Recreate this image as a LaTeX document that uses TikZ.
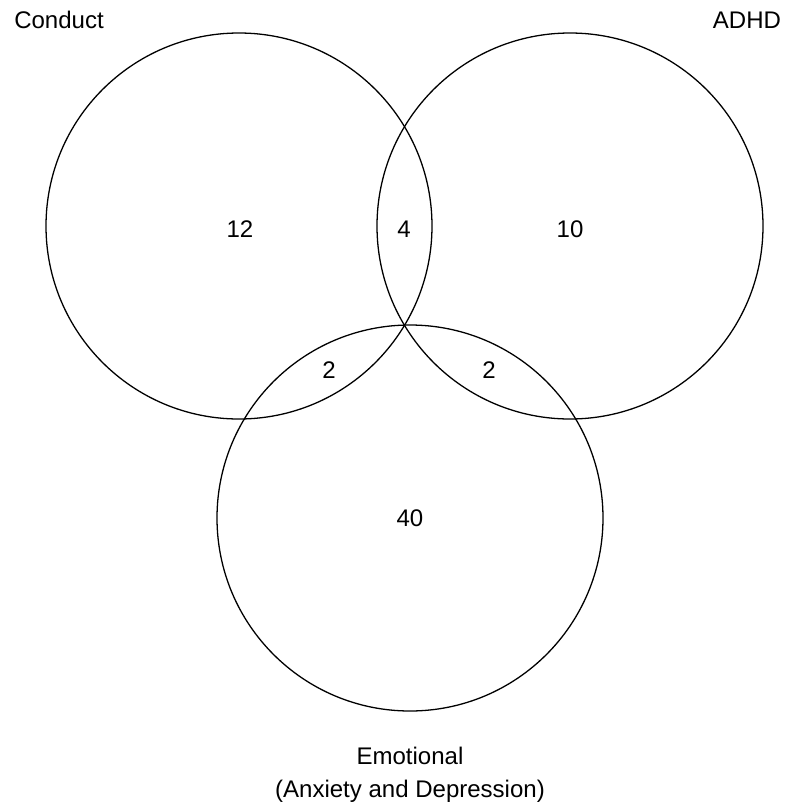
\documentclass[tikz,border=0pt]{standalone}
\usepackage{fontspec}
\setmainfont{Liberation Sans}
\begin{document}
\begin{tikzpicture}[x=0.03cm,y=-0.03cm,
  setline/.style={line width=1.1pt},
  lbl/.style={anchor=base,inner sep=0pt,font=\fontsize{20.5}{24}\selectfont}]
\useasboundingbox (0,0) rectangle (786,803);
% the three sets
\draw[setline] (239,226) circle[radius=193];
\draw[setline] (570,226) circle[radius=193];
\draw[setline] (410,518) circle[radius=193];
% set names
\node[lbl] (conduct) at (59,28) {Conduct};
\node[lbl] (adhd) at (747,28) {ADHD};
\node[lbl] (emotional) at (410,764) {Emotional};
\node[lbl] (anxdep) at (410,797) {(Anxiety and Depression)};
% counts
\node[lbl] (conductonly) at (240,237) {12};
\node[lbl] (condadhd) at (404,237) {4};
\node[lbl] (adhdonly) at (570,237) {10};
\node[lbl] (condemo) at (329,378) {2};
\node[lbl] (adhdemo) at (489,378) {2};
\node[lbl] (emoonly) at (410,526) {40};
\end{tikzpicture}
\end{document}
